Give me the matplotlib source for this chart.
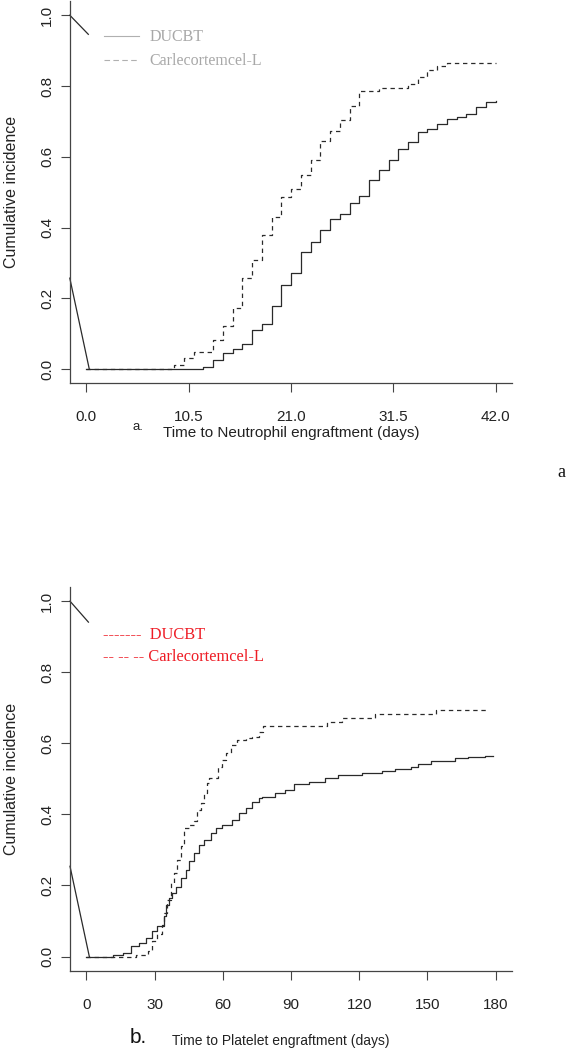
import matplotlib
matplotlib.use("Agg")
import matplotlib.pyplot as plt
from matplotlib.lines import Line2D

# ---- panel a: neutrophil engraftment (days, cumulative incidence) ----
neu_ducbt_t = [0, 12, 13, 14, 15, 16, 17, 18, 19, 20, 21, 22, 23, 24, 25, 26, 27,
               28, 29, 30, 31, 32, 33, 34, 35, 36, 37, 38, 39, 40, 41, 42]
neu_ducbt_y = [0, 0.005, 0.027, 0.045, 0.056, 0.071, 0.11, 0.127, 0.178, 0.239, 0.272,
               0.331, 0.36, 0.393, 0.423, 0.437, 0.468, 0.49, 0.534, 0.562, 0.592, 0.623,
               0.642, 0.67, 0.678, 0.692, 0.706, 0.713, 0.72, 0.741, 0.755, 0.757]
neu_carl_t = [0, 9, 10, 11, 13, 14, 15, 16, 17, 18, 19, 20, 21, 22, 23, 24, 25, 26,
              27, 28, 30, 33, 34, 35, 36, 37, 42]
neu_carl_y = [0, 0.011, 0.030, 0.049, 0.082, 0.122, 0.174, 0.256, 0.308, 0.379, 0.43,
              0.487, 0.508, 0.548, 0.592, 0.645, 0.672, 0.703, 0.744, 0.785, 0.793,
              0.805, 0.824, 0.845, 0.857, 0.866, 0.866]
neu_ticks = [0.0, 10.5, 21.0, 31.5, 42.0]
# stray segments drawn by the original plotting routine
neu_art1_x, neu_art1_y = [-1.7, 0.2], [1.0, 0.946]
neu_art2_x, neu_art2_y = [-1.7, 0.3], [0.257, 0.0]

# ---- panel b: platelet engraftment ----
plt_ducbt_t = [0, 11.5, 15.9, 19.6, 23.2, 26.1, 29.0, 31.2, 33.1, 34.2, 35.2, 36.4,
               37.8, 39.6, 41.5, 43.7, 45.1, 47.3, 49.5, 51.7, 54.6, 56.8, 59.7, 64.1,
               67.0, 70.0, 72.9, 75.8, 77.2, 83.1, 87.5, 91.1, 97.7, 105, 110.8, 121,
               129.8, 135.7, 142.9, 145.9, 151.7, 161.9, 167.8, 175.1, 179]
plt_ducbt_y = [0, 0.003, 0.010, 0.029, 0.038, 0.052, 0.071, 0.085, 0.09, 0.113, 0.146,
               0.164, 0.179, 0.197, 0.221, 0.244, 0.268, 0.291, 0.315, 0.329, 0.347,
               0.361, 0.371, 0.385, 0.404, 0.418, 0.436, 0.446, 0.450, 0.46, 0.469,
               0.485, 0.492, 0.502, 0.511, 0.516, 0.523, 0.527, 0.533, 0.542, 0.551,
               0.558, 0.561, 0.565, 0.565]
plt_carl_t = [0, 22, 26.9, 29.0, 31.2, 33.1, 34.2, 35.6, 37.1, 38.5, 40.0, 41.5, 42.9,
              45.1, 47.3, 48.8, 50.2, 51.7, 53.1, 53.9, 57.8, 59.7, 61.2, 63.4, 66.3,
              70.0, 72.9, 76.0, 77.5, 105.7, 112.3, 126.9, 153.9, 176.5]
plt_carl_y = [0, 0.005, 0.015, 0.043, 0.062, 0.085, 0.122, 0.160, 0.207, 0.235, 0.272,
              0.31, 0.361, 0.371, 0.38, 0.413, 0.432, 0.459, 0.488, 0.502, 0.534, 0.553,
              0.572, 0.596, 0.61, 0.614, 0.619, 0.633, 0.65, 0.659, 0.67, 0.682, 0.694,
              0.694]
plt_ticks = [0, 30, 60, 90, 120, 150, 180]
plt_art1_x, plt_art1_y = [-7.2, 0.9], [1.0, 0.941]
plt_art2_x, plt_art2_y = [-7.2, 1.3], [0.254, 0.0]

y_ticks = [0.0, 0.2, 0.4, 0.6, 0.8, 1.0]
series_names = ["DUCBT", "Carlecortemcel-L"]

SANS = "Liberation Sans"
SERIF = "Liberation Serif"
INK = "#2a2a2a"
RED = "#ee1c25"
DASH = (0, (3.5, 3))


def style_axes(ax, xmax, xticks, xfmt):
    ax.set_xlim(-0.04 * xmax, 1.04 * xmax)
    ax.set_ylim(-0.04, 1.04)
    for s in ("top", "right"):
        ax.spines[s].set_visible(False)
    for s in ("left", "bottom"):
        ax.spines[s].set_color("#444444")
        ax.spines[s].set_linewidth(0.9)
    ax.set_xticks(xticks)
    ax.set_xticklabels([xfmt(v) for v in xticks], fontfamily=SANS, fontsize=11)
    ax.set_yticks(y_ticks)
    ax.set_yticklabels([f"{v:.1f}" for v in y_ticks], fontfamily=SANS, fontsize=11,
                       rotation=90, va="center")
    ax.tick_params(direction="out", length=6.5, width=0.8, color="#444444",
                   labelcolor="#222222")
    ax.tick_params(axis="x", pad=13)
    ax.tick_params(axis="y", pad=5)
    ax.set_ylabel("Cumulative incidence", fontfamily=SANS, fontsize=11.5,
                  color="#222222")
    ax.yaxis.set_label_coords(-0.115, 0.5)


fig = plt.figure(figsize=(5.69, 10.5), dpi=100)

# ---------------- panel a ----------------
ax1 = fig.add_axes([0.123, 0.635, 0.777, 0.364])
ax1.step(neu_ducbt_t, neu_ducbt_y, where="post", color=INK, lw=0.9)
ax1.step(neu_carl_t, neu_carl_y, where="post", color=INK, lw=0.9, linestyle=DASH)
ax1.plot(neu_art1_x, neu_art1_y, color=INK, lw=0.9, clip_on=False)
ax1.plot(neu_art2_x, neu_art2_y, color=INK, lw=0.9, clip_on=False)
style_axes(ax1, 42, neu_ticks, lambda v: f"{v:.1f}")
handles = [Line2D([], [], color="#b0b0b0", lw=0.8),
           Line2D([], [], color="#b0b0b0", lw=0.8, linestyle=(0, (5, 3)))]
leg = ax1.legend(handles, series_names, loc="upper left", bbox_to_anchor=(0.077, 0.926),
                 frameon=False, borderpad=0, borderaxespad=0, handlelength=2.2,
                 handletextpad=0.65, labelspacing=0.5,
                 prop={"family": SERIF, "size": 11.5})
for t in leg.get_texts():
    t.set_color("#a8a8a8")

fig.text(0.232, 0.590, "a.", fontfamily=SANS, fontsize=9.5, color="#222222")
fig.text(0.287, 0.584, "Time to Neutrophil engraftment (days)", fontfamily=SANS,
         fontsize=11, color="#222222")
fig.text(0.980, 0.546, "a", fontfamily=SERIF, fontsize=13, ha="left", color="#111111")

# ---------------- panel b ----------------
ax2 = fig.add_axes([0.123, 0.0755, 0.777, 0.3655])
ax2.step(plt_ducbt_t, plt_ducbt_y, where="post", color=INK, lw=0.9)
ax2.step(plt_carl_t, plt_carl_y, where="post", color=INK, lw=0.9, linestyle=DASH)
ax2.plot(plt_art1_x, plt_art1_y, color=INK, lw=0.9, clip_on=False)
ax2.plot(plt_art2_x, plt_art2_y, color=INK, lw=0.9, clip_on=False)
style_axes(ax2, 180, plt_ticks, lambda v: f"{v:d}")
ax2.text(0.075, 0.874, "-------  " + series_names[0], transform=ax2.transAxes,
         fontfamily=SERIF, fontsize=11.8, color=RED, va="center")
ax2.text(0.075, 0.817, "-- -- -- " + series_names[1], transform=ax2.transAxes,
         fontfamily=SERIF, fontsize=11.8, color=RED, va="center")

fig.text(0.228, 0.007, "b.", fontfamily=SANS, fontsize=15, color="#111111")
fig.text(0.302, 0.005, "Time to Platelet engraftment (days)", fontfamily=SANS,
         fontsize=10, color="#222222")

fig.savefig("out.png", dpi=100)
plt.close(fig)
